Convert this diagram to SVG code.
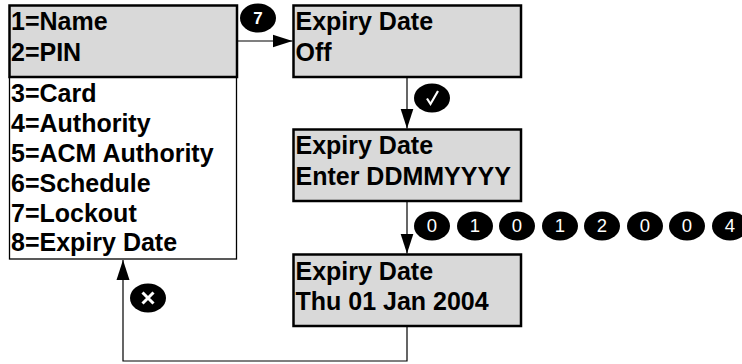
<svg xmlns="http://www.w3.org/2000/svg" width="742" height="364" viewBox="0 0 742 364">
<style>
text{font-family:"Liberation Sans",Arial,sans-serif}
.t{font-size:25px;font-weight:700;fill:#000}
.g{fill:#d9d9d9;stroke:#000;stroke-width:2.5}
.w{fill:#fff;stroke:#000;stroke-width:1.3}
.c{fill:none;stroke:#000;stroke-width:1.2}
.b{fill:#000}
.k{font-size:18.500px;fill:#fff;text-anchor:middle}
</style>
<defs>
<marker id="a" markerUnits="userSpaceOnUse" markerWidth="20" markerHeight="14" refX="20" refY="7" orient="auto"><path d="M0 0.500L20 7L0 13.500Z" fill="#000"/></marker>
</defs>
<rect width="742" height="364" fill="#fff"/>
<g id="connectors">
<path class="c" d="M237 41H292.500" marker-end="url(#a)"/>
<path class="c" d="M407 77V128.500" marker-end="url(#a)"/>
<path class="c" d="M407 201V253.500" marker-end="url(#a)"/>
<path class="c" d="M407 326V361H123V260" marker-end="url(#a)"/>
</g>
<g id="menu-list"><rect class="w" x="9.500" y="77" width="227" height="182"/>
<text class="t" x="11" y="102">3=Card</text><text class="t" x="11" y="132">4=Authority</text><text class="t" x="11" y="162">5=ACM Authority</text><text class="t" x="11" y="192">6=Schedule</text><text class="t" x="11" y="222">7=Lockout</text><text class="t" x="11" y="251">8=Expiry Date</text></g>
<g id="menu-top"><rect class="g" x="9.500" y="5.500" width="227.500" height="71.500"/>
<text class="t" x="11" y="30">1=Name</text><text class="t" x="11" y="61">2=PIN</text></g>
<g id="screen-off"><rect class="g" x="293.500" y="5.500" width="227.500" height="71.500"/>
<text class="t" x="295.500" y="30">Expiry Date</text><text class="t" x="295.500" y="61">Off</text></g>
<g id="screen-enter"><rect class="g" x="293.500" y="129.500" width="227.500" height="71.500"/>
<text class="t" x="295.500" y="154">Expiry Date</text><text class="t" x="295.500" y="185">Enter DDMMYYYY</text></g>
<g id="screen-date"><rect class="g" x="293.500" y="254.500" width="227.500" height="71.500"/>
<text class="t" x="295.500" y="279.500">Expiry Date</text><text class="t" x="295.500" y="310">Thu 01 Jan 2004</text></g>
<g id="key-7"><ellipse class="b" cx="258" cy="18" rx="18" ry="14.500"/><text class="k" x="258" y="24" style="font-weight:700;font-size:17px">7</text></g>
<g id="key-ok"><ellipse class="b" cx="432" cy="98" rx="18" ry="14.500"/><path d="M427 98.500L430.500 104L438 91" fill="none" stroke="#fff" stroke-width="2.200"/></g>
<g id="key-cancel"><ellipse class="b" cx="148" cy="298" rx="18" ry="14.500"/><path d="M142.500 292.500L153.500 303.500M153.500 292.500L142.500 303.500" fill="none" stroke="#fff" stroke-width="3"/></g>
<g id="key-d1"><ellipse class="b" cx="432" cy="226" rx="18" ry="14.500"/><text class="k" x="432" y="232">0</text></g>
<g id="key-d2"><ellipse class="b" cx="475" cy="226" rx="18" ry="14.500"/><text class="k" x="475" y="232">1</text></g>
<g id="key-d3"><ellipse class="b" cx="517" cy="226" rx="18" ry="14.500"/><text class="k" x="517" y="232">0</text></g>
<g id="key-d4"><ellipse class="b" cx="560" cy="226" rx="18" ry="14.500"/><text class="k" x="560" y="232">1</text></g>
<g id="key-d5"><ellipse class="b" cx="602" cy="226" rx="18" ry="14.500"/><text class="k" x="602" y="232">2</text></g>
<g id="key-d6"><ellipse class="b" cx="645" cy="226" rx="18" ry="14.500"/><text class="k" x="645" y="232">0</text></g>
<g id="key-d7"><ellipse class="b" cx="687" cy="226" rx="18" ry="14.500"/><text class="k" x="687" y="232">0</text></g>
<g id="key-d8"><ellipse class="b" cx="730" cy="226" rx="18" ry="14.500"/><text class="k" x="730" y="232">4</text></g>
</svg>
